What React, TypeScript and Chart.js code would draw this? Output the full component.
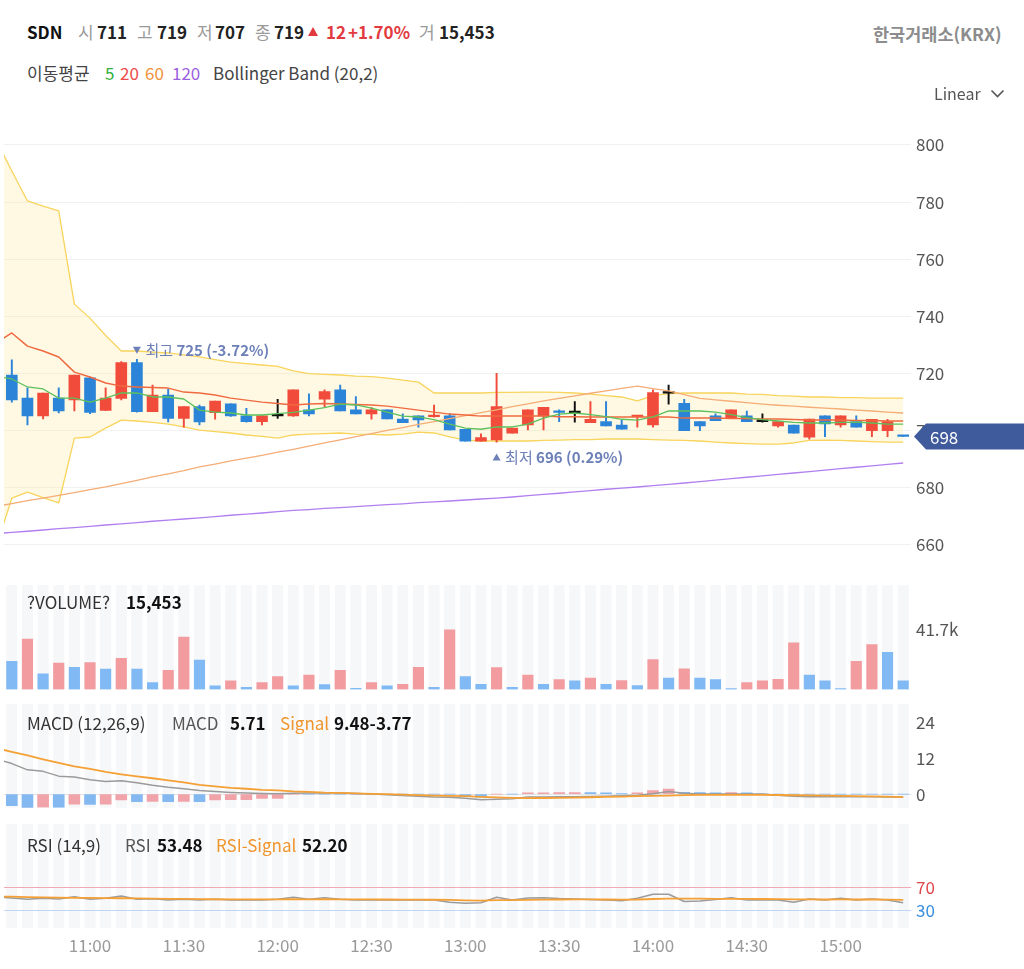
import React, { useEffect, useRef } from 'react';
import { Chart, registerables } from 'chart.js';

Chart.register(...registerables);

const FONT = '"Noto Sans CJK KR", "Noto Sans", sans-serif';

// ---------- data ----------
const TIME_LABELS = ['11:00', '11:30', '12:00', '12:30', '13:00', '13:30', '14:00', '14:30', '15:00'];
const TIME_INDEX = [5, 11, 17, 23, 29, 35, 41, 47, 53];

const OPEN = [719.5, 711.4, 705.2, 711.4, 710.8, 718.5, 707.1, 711.3, 723.8, 706.7, 712.5, 704.3, 708.4, 706.3, 709.4, 705.2, 703.2, 705.2, 705.2, 707.3, 711.0, 714.3, 707.3, 705.9, 707.3, 704.1, 705.2, 704.9, 705.2, 700.5, 696.3, 696.8, 699.1, 702.0, 705.2, 706.7, 706.3, 702.8, 703.2, 702.0, 704.9, 702.0, 713.1, 709.6, 703.2, 705.2, 704.4, 705.2, 703.2, 701.7, 702.0, 697.7, 705.2, 702.0, 703.2, 700.0, 700.0, 698.2];
const HIGH = [724.8, 715.0, 713.2, 715.0, 719.5, 718.8, 715.0, 724.2, 725.0, 716.0, 714.5, 708.4, 709.0, 710.4, 709.4, 707.8, 705.2, 711.0, 714.3, 712.9, 714.3, 716.0, 711.9, 708.1, 707.3, 705.9, 705.2, 709.0, 705.9, 700.5, 698.9, 720.1, 700.9, 707.3, 708.2, 707.3, 710.2, 710.2, 710.2, 703.8, 705.3, 714.3, 716.0, 711.0, 703.2, 705.9, 707.3, 706.9, 705.9, 703.2, 702.0, 704.1, 705.2, 705.2, 705.2, 704.0, 704.0, 698.2];
const LOW = [710.0, 702.0, 704.1, 706.2, 706.9, 706.0, 707.0, 710.8, 706.5, 706.7, 703.1, 701.2, 702.0, 704.0, 705.0, 703.0, 702.0, 704.3, 705.0, 705.2, 708.4, 706.9, 705.9, 704.0, 704.1, 702.8, 701.2, 704.7, 700.3, 696.3, 696.3, 696.0, 699.1, 700.3, 700.3, 703.2, 703.0, 702.8, 701.7, 700.5, 701.2, 701.2, 709.3, 700.0, 700.0, 703.5, 704.4, 703.2, 703.0, 701.2, 699.1, 697.0, 697.9, 701.2, 701.2, 697.9, 697.9, 698.0];
const CLOSE = [710.8, 705.2, 713.2, 706.9, 719.5, 706.4, 711.4, 723.8, 706.7, 712.5, 704.3, 708.4, 703.1, 710.4, 705.2, 703.2, 705.2, 705.2, 714.3, 705.9, 713.7, 706.9, 705.9, 707.3, 704.1, 702.8, 703.8, 705.5, 700.3, 696.3, 697.6, 708.4, 700.9, 707.3, 708.2, 706.4, 706.3, 704.0, 701.7, 700.5, 705.3, 713.3, 713.1, 700.0, 701.7, 703.5, 707.3, 703.2, 703.2, 703.2, 699.1, 704.1, 702.4, 705.2, 701.2, 704.0, 703.2, 698.0];

const VOLUME = [19700, 35200, 11000, 18500, 15500, 18800, 14300, 21800, 14200, 4900, 13400, 36600, 20600, 2600, 6100, 1600, 4900, 9100, 2600, 10100, 3500, 13400, 900, 4900, 2600, 3700, 15500, 1600, 41700, 9100, 3700, 15400, 1600, 10100, 3700, 7000, 6100, 7900, 3700, 6200, 2800, 20900, 7900, 14500, 7950, 7000, 700, 4900, 6100, 7050, 32600, 10000, 6100, 700, 19700, 31400, 26000, 6100];

// indicator series: first value belongs to the candle just before the visible range
const MA5 = [719.1, 718.1, 715.3, 714.6, 711.4, 711.4, 710.0, 711.4, 713.2, 713.2, 711.8, 711.8, 711.1, 707.2, 706.5, 706.2, 705.5, 705.5, 706.0, 706.4, 707.2, 708.1, 709.3, 709.0, 707.9, 706.5, 705.1, 704.8, 703.9, 702.3, 700.9, 700.5, 701.3, 701.3, 702.3, 704.4, 705.8, 706.2, 705.6, 704.9, 704.0, 703.7, 704.8, 706.9, 706.9, 706.9, 706.5, 705.6, 704.6, 703.9, 703.4, 702.9, 702.7, 702.7, 702.9, 703.0, 702.7, 702.3, 702.3];
const MA20 = [730.7, 734.2, 729.6, 727.9, 725.8, 720.5, 718.8, 716.7, 715.6, 715.3, 715.1, 714.9, 713.5, 713.2, 712.5, 711.4, 710.7, 710.0, 709.5, 709.0, 709.3, 709.5, 709.3, 709.2, 709.0, 708.6, 707.9, 707.2, 706.5, 705.8, 705.5, 705.1, 705.1, 705.1, 705.1, 705.1, 704.9, 704.9, 704.8, 704.8, 704.8, 704.8, 704.8, 704.8, 704.4, 704.4, 704.4, 704.3, 704.3, 704.1, 704.1, 703.9, 703.7, 703.7, 703.7, 703.6, 703.6, 703.4, 703.4];
const MA60 = [673.5, 674.5, 675.5, 676.4, 677.4, 678.3, 679.4, 680.3, 681.5, 682.6, 683.8, 684.9, 686.0, 687.3, 688.3, 689.4, 690.4, 691.4, 692.5, 693.5, 694.6, 695.7, 696.8, 697.9, 699.0, 700.1, 701.1, 702.2, 703.2, 704.2, 705.3, 706.3, 707.3, 708.4, 709.4, 710.4, 711.3, 712.2, 713.1, 713.9, 714.8, 715.6, 714.7, 713.9, 712.6, 711.3, 710.8, 710.3, 709.8, 709.3, 708.9, 708.6, 708.2, 707.9, 707.6, 707.2, 706.9, 706.5, 706.2];
const MA120 = [664.0, 664.4, 664.8, 665.25, 665.7, 666.1, 666.5, 667.0, 667.4, 667.8, 668.3, 668.7, 669.1, 669.5, 669.9, 670.4, 670.8, 671.2, 671.7, 672.1, 672.4, 672.8, 673.1, 673.4, 673.8, 674.1, 674.4, 674.8, 675.1, 675.4, 675.75, 676.1, 676.4, 676.8, 677.3, 677.7, 678.1, 678.6, 679.0, 679.5, 679.9, 680.3, 680.8, 681.2, 681.7, 682.2, 682.7, 683.2, 683.7, 684.2, 684.7, 685.2, 685.7, 686.2, 686.7, 687.2, 687.7, 688.2, 688.7];
const BB_UPPER = [801.7, 790.9, 780.4, 778.6, 776.9, 744.3, 739.4, 733.3, 727.9, 727.9, 727.5, 727.2, 726.5, 725.8, 724.9, 724.0, 723.5, 723.0, 722.5, 720.9, 720.0, 719.7, 719.5, 719.1, 718.9, 718.4, 717.7, 717.0, 713.2, 713.2, 713.2, 713.2, 713.4, 713.4, 713.5, 713.5, 713.4, 713.2, 712.8, 712.3, 711.8, 710.4, 712.3, 713.0, 713.2, 713.2, 713.2, 713.2, 712.8, 712.7, 712.3, 712.1, 711.8, 711.8, 711.6, 711.6, 711.4, 711.4, 711.4];
const BB_LOWER = [659.3, 676.4, 678.5, 676.6, 674.7, 697.4, 697.8, 700.9, 703.7, 703.4, 702.9, 702.3, 701.3, 700.2, 699.7, 699.2, 698.5, 698.0, 697.4, 698.5, 698.8, 699.0, 699.2, 698.8, 698.7, 698.5, 698.8, 699.5, 699.2, 697.8, 696.7, 696.4, 696.4, 696.4, 696.4, 696.6, 696.7, 696.9, 696.9, 697.1, 697.1, 697.1, 696.9, 696.7, 696.6, 696.4, 696.0, 695.7, 695.5, 695.3, 695.3, 695.7, 696.6, 696.7, 696.6, 696.4, 696.2, 696.0, 696.0];

const MACD = [11.8, 10.2, 8.1, 7.6, 6.0, 5.7, 4.8, 4.2, 4.5, 3.8, 2.95, 2.3, 1.78, 1.2, 0.84, 0.54, 0.34, 0.17, 0.1, 0.27, 0.34, 0.34, 0.34, 0.17, 0, -0.23, -0.47, -0.74, -0.97, -1.07, -1.4, -1.9, -1.74, -1.58, -1.0, -0.95, -0.9, -0.85, -0.8, -0.74, -0.57, -0.34, 0.1, 0.87, 0.27, 0, 0, 0, 0, 0, -0.4, -0.74, -0.84, -0.9, -0.9, -0.9, -0.9, -0.97, -1.0];
const SIGNAL = [15.4, 14.1, 12.9, 11.6, 10.4, 9.3, 8.4, 7.4, 6.6, 5.9, 5.3, 4.6, 3.9, 3.1, 2.6, 2.1, 1.8, 1.4, 1.27, 0.93, 0.77, 0.53, 0.43, 0.27, 0.1, 0, -0.17, -0.33, -0.47, -0.57, -0.67, -0.9, -1.1, -1.23, -1.33, -1.3, -1.25, -1.15, -1.05, -0.95, -0.85, -0.7, -0.57, -0.47, -0.33, -0.23, -0.23, -0.23, -0.23, -0.23, -0.3, -0.37, -0.43, -0.5, -0.57, -0.67, -0.77, -0.87, -1.0];
const HIST = [-3.9, -4.5, -4.4, -4.45, -3.35, -3.4, -3.35, -1.9, -2.5, -2.45, -2.5, -2.45, -2.5, -1.9, -1.88, -1.86, -1.47, -1.45, 0, 0, 0, 0, 0, 0, 0, 0, 0, 0, 0, -0.8, -1.0, 0, 0, 0.4, 0.45, 0.5, 0.55, 0.5, 0.45, 0.1, 0.45, 1.2, 1.7, 0.6, 0.5, 0.45, 0.5, 0.45, 0, 0, 0, 0, 0, 0, 0, 0, 0, 0];

const RSI = [53.5, 52.0, 49.7, 51.4, 50.3, 54.1, 49.7, 51.4, 55.3, 49.7, 50.8, 48.6, 49.7, 48.6, 49.7, 48.6, 48.6, 48.6, 49.7, 53.1, 49.7, 52.4, 49.7, 48.6, 48.6, 48.6, 48.6, 48.6, 48.6, 44.7, 43.0, 44.0, 53.1, 48.6, 52.0, 52.4, 51.0, 50.3, 49.4, 48.6, 47.4, 51.4, 58.2, 58.2, 46.0, 46.9, 49.4, 52.4, 48.6, 48.6, 48.6, 44.7, 50.3, 48.6, 51.4, 48.6, 50.3, 48.6, 44.0];
const RSI_SIGNAL = [54.3, 54.1, 53.5, 53.0, 52.5, 52.3, 52.0, 51.6, 51.5, 51.2, 51.0, 50.6, 50.3, 50.0, 49.8, 49.7, 49.7, 49.7, 49.7, 49.8, 49.7, 49.8, 49.7, 49.6, 49.5, 49.4, 49.3, 49.2, 49.0, 48.6, 48.0, 47.6, 48.2, 48.4, 48.8, 49.2, 49.4, 49.5, 49.5, 49.4, 49.3, 49.4, 50.2, 51.0, 51.0, 50.8, 50.6, 50.6, 50.4, 50.2, 50.0, 49.6, 49.6, 49.4, 49.5, 49.4, 49.4, 49.2, 48.6];

const PRICE_TICKS = [660, 680, 700, 720, 740, 760, 780, 800];
const MACD_TICKS = [0, 12, 24];
const RSI_TICKS = [30, 70];

// ---------- styles ----------
const N = OPEN.length;
const UP = '#f04b3b';
const DOWN = '#2b84d8';
const FLAT = '#111111';
const VOL_UP = '#f29ca0';
const VOL_DOWN = '#80b9f3';
const AXIS_W = 113;
const PAD_L = 4;

const candleColor = (i: number) => (CLOSE[i] > OPEN[i] ? UP : CLOSE[i] < OPEN[i] ? DOWN : FLAT);
const pts = (arr: number[]) => arr.map((v, k) => ({ x: k - 1, y: v }));

const xAxis = () => ({ type: 'linear', min: -0.5, max: N - 0.5, display: false, offset: false });

function yAxis(min: number, max: number, ticks: number[], extra: any = {}) {
  return {
    position: 'right',
    min,
    max,
    afterFit: (s: any) => {
      s.width = AXIS_W;
    },
    afterBuildTicks: (s: any) => {
      s.ticks = ticks.map((v) => ({ value: v }));
    },
    grid: { color: extra.gridColor ?? '#f1f1f1', drawTicks: false, lineWidth: extra.gridWidth ?? 1 },
    border: { display: false },
    ticks: {
      padding: 5,
      color: extra.tickColor ?? '#555',
      font: { size: 17, family: FONT },
      callback: extra.callback ?? ((v: any) => String(v)),
    },
  };
}

const baseOptions = (top: number, bottom: number) => ({
  responsive: false,
  maintainAspectRatio: false,
  animation: false,
  events: [],
  layout: { padding: { left: PAD_L, right: 0, top, bottom } },
  elements: { point: { radius: 0 }, line: { tension: 0, borderJoinStyle: 'round' } },
  plugins: {
    legend: { display: false },
    tooltip: { enabled: false },
    filler: { drawTime: 'beforeDatasetsDraw' },
  },
});

const stripes = {
  id: 'stripes',
  beforeDraw(chart: any) {
    const { ctx, chartArea, scales } = chart;
    ctx.save();
    ctx.fillStyle = '#f6f7f9';
    for (let i = 0; i < N; i++) {
      const px = scales.x.getPixelForValue(i);
      ctx.fillRect(px - 5.5, chartArea.top, 11, chartArea.bottom - chartArea.top);
    }
    ctx.restore();
  },
};

const priceMarks = {
  id: 'priceMarks',
  afterDraw(chart: any) {
    const { ctx, scales } = chart;
    const { x, y } = scales;
    const hi = Math.max(...HIGH);
    const lo = Math.min(...LOW);
    const hiIdx = HIGH.indexOf(hi);
    const loIdx = LOW.indexOf(lo);
    const last = CLOSE[N - 1];
    const col = '#6d81b8';
    ctx.save();
    ctx.fillStyle = col;
    ctx.textBaseline = 'middle';
    // highest
    const hx = x.getPixelForValue(hiIdx);
    const hy = y.getPixelForValue(hi) - 9;
    ctx.beginPath();
    ctx.moveTo(hx - 4, hy - 3.5);
    ctx.lineTo(hx + 4, hy - 3.5);
    ctx.lineTo(hx, hy + 3.5);
    ctx.closePath();
    ctx.fill();
    ctx.textAlign = 'left';
    ctx.font = `15px ${FONT}`;
    ctx.fillText('최고', hx + 8.5, hy);
    let w = ctx.measureText('최고 ').width;
    ctx.font = `bold 15px ${FONT}`;
    const hiPct = (((last - hi) / hi) * 100).toFixed(2);
    ctx.fillText(`${Math.round(hi)} (${hiPct}%)`, hx + 8.5 + w, hy);
    // lowest
    const lx = x.getPixelForValue(loIdx);
    const ly = y.getPixelForValue(lo) + 15;
    ctx.beginPath();
    ctx.moveTo(lx - 4, ly + 3.5);
    ctx.lineTo(lx + 4, ly + 3.5);
    ctx.lineTo(lx, ly - 3.5);
    ctx.closePath();
    ctx.fill();
    ctx.font = `15px ${FONT}`;
    ctx.fillText('최저', lx + 8.5, ly);
    w = ctx.measureText('최저 ').width;
    ctx.font = `bold 15px ${FONT}`;
    const loPct = (((last - lo) / lo) * 100).toFixed(2);
    ctx.fillText(`${Math.round(lo)} (${loPct}%)`, lx + 8.5 + w, ly);
    // current price tag
    const py = y.getPixelForValue(last);
    const left = chart.chartArea.right + 3;
    ctx.fillStyle = '#3f5b9c';
    ctx.beginPath();
    ctx.moveTo(left, py);
    ctx.lineTo(left + 12, py - 13);
    ctx.lineTo(1024, py - 13);
    ctx.lineTo(1024, py + 13);
    ctx.lineTo(left + 12, py + 13);
    ctx.closePath();
    ctx.fill();
    ctx.fillStyle = '#ffffff';
    ctx.font = `17px ${FONT}`;
    ctx.fillText(String(Math.round(last)), left + 16, py + 1);
    ctx.restore();
  },
};

const timeLabels = {
  id: 'timeLabels',
  afterDraw(chart: any) {
    const { ctx, chartArea, scales } = chart;
    ctx.save();
    ctx.fillStyle = '#9a9a9a';
    ctx.font = `17px ${FONT}`;
    ctx.textAlign = 'center';
    ctx.textBaseline = 'middle';
    TIME_INDEX.forEach((idx, k) => {
      ctx.fillText(TIME_LABELS[k], scales.x.getPixelForValue(idx), chartArea.bottom + 18);
    });
    ctx.restore();
  },
};

const lineDs = (arr: number[], color: string, width: number, order: number, extra: any = {}) => ({
  type: 'line',
  data: pts(arr),
  borderColor: color,
  borderWidth: width,
  pointRadius: 0,
  fill: false,
  order,
  ...extra,
});

// ---------- chart configs ----------
const mainConfig = () => ({
  type: 'bar',
  data: {
    datasets: [
      lineDs(BB_UPPER, '#f8d45c', 1.3, 10, { fill: '+1', backgroundColor: 'rgba(255, 236, 170, 0.32)' }),
      lineDs(BB_LOWER, '#f8d45c', 1.3, 11),
      {
        type: 'bar',
        data: OPEN.map((_, i) => ({ x: i, y: [LOW[i], HIGH[i]] })),
        backgroundColor: OPEN.map((_, i) => candleColor(i)),
        barThickness: 1.3,
        grouped: false,
        order: 6,
      },
      {
        type: 'bar',
        data: OPEN.map((o, i) => ({ x: i, y: [o, CLOSE[i]] })),
        backgroundColor: OPEN.map((_, i) => candleColor(i)),
        barThickness: 11,
        minBarLength: 1.6,
        grouped: false,
        order: 5,
      },
      lineDs(MA120, '#b27ff0', 1.3, 4),
      lineDs(MA60, '#f4ad77', 1.3, 3),
      lineDs(MA20, '#ef6a40', 1.5, 2),
      lineDs(MA5, '#5cc15c', 1.3, 1),
    ],
  },
  options: {
    ...baseOptions(16.4, 29.3),
    scales: { x: xAxis(), y: yAxis(651, 810, PRICE_TICKS) },
  },
  plugins: [priceMarks],
});

const volumeConfig = () => ({
  type: 'bar',
  data: {
    datasets: [
      {
        data: VOLUME.map((v, i) => ({ x: i, y: v })),
        backgroundColor: VOLUME.map((v, i) => (i > 0 && v > VOLUME[i - 1] ? VOL_UP : VOL_DOWN)),
        barThickness: 10.5,
        grouped: false,
      },
    ],
  },
  options: {
    ...baseOptions(15, 15.5),
    scales: {
      x: xAxis(),
      y: yAxis(0, 72900, [Math.max(...VOLUME)], {
        gridColor: 'rgba(0,0,0,0)',
        callback: (v: any) => `${(v / 1000).toFixed(1)}k`,
      }),
    },
  },
  plugins: [stripes],
});

const macdConfig = () => ({
  type: 'bar',
  data: {
    datasets: [
      {
        type: 'bar',
        data: HIST.map((v, i) => ({ x: i, y: v })),
        backgroundColor: HIST.map((v, i) => (i > 0 && v > HIST[i - 1] ? '#f0a3a8' : '#83b9f0')),
        barThickness: 11,
        grouped: false,
        order: 3,
      },
      lineDs(MACD, '#9b9b9b', 1.5, 2),
      lineDs(SIGNAL, '#f5a035', 1.8, 1),
    ],
  },
  options: {
    ...baseOptions(16, 15),
    scales: {
      x: xAxis(),
      y: yAxis(-4.57, 30.1, MACD_TICKS, {
        gridColor: (c: any) => (c.tick && c.tick.value === 0 ? '#e2e2e2' : 'rgba(0,0,0,0)'),
      }),
    },
  },
  plugins: [stripes],
});

const rsiConfig = () => ({
  type: 'line',
  data: {
    datasets: [lineDs(RSI, '#9b9b9b', 1.5, 2), lineDs(RSI_SIGNAL, '#f5a035', 1.8, 1)],
  },
  options: {
    ...baseOptions(16, 41),
    scales: {
      x: xAxis(),
      y: yAxis(1.3, 176.8, RSI_TICKS, {
        gridColor: (c: any) => (c.tick && c.tick.value === 70 ? '#f3a9b3' : '#bcd6f3'),
        tickColor: (c: any) => (c.tick && c.tick.value === 70 ? '#e0474c' : '#3a8ee0'),
      }),
    },
  },
  plugins: [stripes, timeLabels],
});

// ---------- components ----------
function Panel({ top, height, build }: { top: number; height: number; build: () => any }) {
  const ref = useRef<HTMLCanvasElement>(null);
  useEffect(() => {
    const chart = new Chart(ref.current as HTMLCanvasElement, build());
    return () => chart.destroy();
  }, []);
  return (
    <canvas
      ref={ref}
      width={1024}
      height={height}
      style={{ position: 'absolute', left: 0, top, width: 1024, height }}
    />
  );
}

function T(p: { x: number; y: number; children: any; size?: number; color?: string; weight?: number }) {
  return (
    <span
      style={{
        position: 'absolute',
        left: p.x,
        top: p.y - 12,
        lineHeight: '24px',
        height: 24,
        fontSize: p.size ?? 17,
        color: p.color ?? '#333',
        fontWeight: p.weight ?? 400,
        whiteSpace: 'nowrap',
      }}
    >
      {p.children}
    </span>
  );
}

export default function App() {
  const G = '#9a9a9a';
  const D = '#222';
  const R = '#e23a3f';
  return (
    <div
      style={{
        position: 'absolute',
        left: 0,
        top: 0,
        width: 1024,
        height: 969,
        background: '#fff',
        fontFamily: FONT,
        overflow: 'hidden',
      }}
    >
      <Panel top={100} height={500} build={mainConfig} />
      <Panel top={570} height={135} build={volumeConfig} />
      <Panel top={688} height={135} build={macdConfig} />
      <Panel top={808} height={161} build={rsiConfig} />

      {/* header row 1 */}
      <T x={27} y={32} weight={700} color="#111">SDN</T>
      <T x={78} y={32} color={G}>시</T>
      <T x={97} y={32} weight={700} color={D}>711</T>
      <T x={137} y={32} color={G}>고</T>
      <T x={157} y={32} weight={700} color={D}>719</T>
      <T x={197} y={32} color={G}>저</T>
      <T x={215} y={32} weight={700} color={D}>707</T>
      <T x={255} y={32} color={G}>종</T>
      <T x={274} y={32} weight={700} color={D}>719</T>
      <div
        style={{
          position: 'absolute',
          left: 308,
          top: 27,
          width: 0,
          height: 0,
          borderLeft: '5px solid transparent',
          borderRight: '5px solid transparent',
          borderBottom: `9px solid ${R}`,
        }}
      />
      <T x={326} y={32} weight={700} color={R}>12</T>
      <T x={348} y={32} weight={700} color={R}>+1.70%</T>
      <T x={419} y={32} color={G}>거</T>
      <T x={439} y={32} weight={700} color={D}>15,453</T>
      <T x={873} y={34} size={17.5} weight={600} color="#8c8c8c">한국거래소(KRX)</T>

      {/* header row 2 */}
      <T x={27} y={73} color="#444">이동평균</T>
      <T x={105} y={73} color="#32b03c">5</T>
      <T x={120} y={73} color="#ee4a4a">20</T>
      <T x={145} y={73} color="#f0923a">60</T>
      <T x={172} y={73} color="#9a5fe0">120</T>
      <T x={213} y={73} color="#444">Bollinger Band (20,2)</T>

      <T x={934} y={93} size={16} color="#555">Linear</T>
      <svg style={{ position: 'absolute', left: 990, top: 89 }} width={15} height={10}>
        <polyline points="1.5,1.5 7.5,7.5 13.5,1.5" fill="none" stroke="#555" strokeWidth={1.6} />
      </svg>

      {/* volume label */}
      <T x={27} y={602} color="#333">?VOLUME?</T>
      <T x={126} y={602} weight={700} color="#111">15,453</T>

      {/* MACD labels */}
      <T x={27} y={723} color="#333">MACD (12,26,9)</T>
      <T x={172} y={723} color="#555">MACD</T>
      <T x={230} y={723} weight={700} color="#111">5.71</T>
      <T x={280} y={723} color="#f0952e">Signal</T>
      <T x={334} y={723} weight={700} color="#111">9.48-3.77</T>

      {/* RSI labels */}
      <T x={27} y={845} color="#333">RSI (14,9)</T>
      <T x={125} y={845} color="#555">RSI</T>
      <T x={157} y={845} weight={700} color="#111">53.48</T>
      <T x={216} y={845} color="#f0952e">RSI-Signal</T>
      <T x={302} y={845} weight={700} color="#111">52.20</T>
    </div>
  );
}
